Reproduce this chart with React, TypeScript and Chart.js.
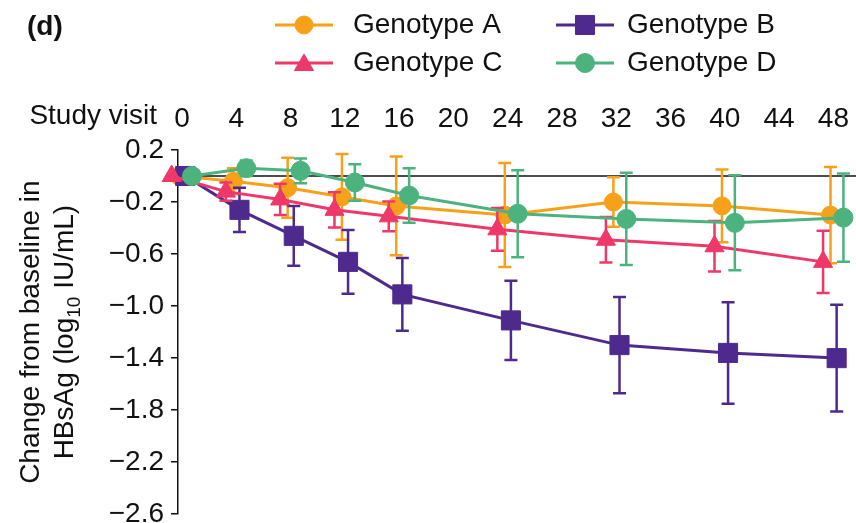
import { useEffect, useRef } from 'react';
import { Chart, registerables } from 'chart.js';

Chart.register(...registerables);

// ---- data ----
const weeks = [0, 4, 8, 12, 16, 24, 32, 40, 48];
const weekTicks = [0, 4, 8, 12, 16, 20, 24, 28, 32, 36, 40, 44, 48];
const yTicks = [0.2, -0.2, -0.6, -1.0, -1.4, -1.8, -2.2, -2.6];

const seriesNames = ['Genotype A', 'Genotype B', 'Genotype C', 'Genotype D'];

const genotypeA = [0, -0.04, -0.09, -0.16, -0.23, -0.30, -0.20, -0.23, -0.30];
const genotypeAErr = [0, 0.10, 0.23, 0.33, 0.38, 0.40, 0.19, 0.28, 0.37];

const genotypeB = [0, -0.26, -0.46, -0.66, -0.91, -1.11, -1.30, -1.36, -1.40];
const genotypeBErr = [0, 0.17, 0.23, 0.245, 0.28, 0.305, 0.37, 0.39, 0.41];

const genotypeC = [0, -0.12, -0.18, -0.26, -0.31, -0.41, -0.49, -0.54, -0.66];
const genotypeCErr = [0, 0.07, 0.12, 0.135, 0.115, 0.165, 0.175, 0.195, 0.24];

const genotypeD = [0, 0.06, 0.04, -0.05, -0.15, -0.29, -0.33, -0.36, -0.32];
const genotypeDErr = [0, 0.06, 0.095, 0.14, 0.21, 0.335, 0.355, 0.365, 0.34];

// ---- styling ----
const FONT = '"Liberation Sans", Arial, Helvetica, sans-serif';
const FS = 28;
const TEXT = '#111111';
const colors = ['#F7A11A', '#4E2A8E', '#EE3869', '#4DB37E'];
const pointStyles = ['circle', 'rect', 'triangle', 'circle'];
const pointRadii = [9, 13.5, 11, 9.5];
const dodge = [-0.21, 0.24, -0.76, 0.74];
const drawOrder = [4, 3, 2, 1];

const values = [genotypeA, genotypeB, genotypeC, genotypeD];
const errors = [genotypeAErr, genotypeBErr, genotypeCErr, genotypeDErr];

function fmtY(v: number) {
  const r = Math.round(v * 10) / 10;
  return (r < 0 ? '\u2212' : '') + Math.abs(r).toFixed(1);
}

function drawMarker(ctx: CanvasRenderingContext2D, style: string, x: number, y: number, r: number, color: string) {
  ctx.save();
  ctx.fillStyle = color;
  ctx.strokeStyle = color;
  ctx.lineWidth = 1;
  ctx.beginPath();
  if (style === 'circle') {
    ctx.arc(x, y, r, 0, Math.PI * 2);
  } else if (style === 'rect') {
    const s = r * Math.SQRT1_2;
    ctx.rect(x - s, y - s, 2 * s, 2 * s);
  } else {
    let rad = 0;
    ctx.moveTo(x + Math.sin(rad) * r, y - Math.cos(rad) * r);
    rad += (2 * Math.PI) / 3;
    ctx.lineTo(x + Math.sin(rad) * r, y - Math.cos(rad) * r);
    rad += (2 * Math.PI) / 3;
    ctx.lineTo(x + Math.sin(rad) * r, y - Math.cos(rad) * r);
    ctx.closePath();
  }
  ctx.fill();
  ctx.stroke();
  ctx.restore();
}

const errorBarPlugin = {
  id: 'errorBars',
  beforeDatasetsDraw(chart: any) {
    const { ctx, chartArea, scales } = chart;
    const y0 = scales.y.getPixelForValue(0);
    ctx.save();
    ctx.strokeStyle = TEXT;
    ctx.lineWidth = 1.5;
    ctx.beginPath();
    ctx.moveTo(chartArea.left, y0);
    ctx.lineTo(chartArea.right, y0);
    ctx.stroke();
    ctx.restore();
  },
  beforeDatasetDraw(chart: any, args: any) {
    const ds = chart.data.datasets[args.index];
    const errs: number[] = ds.errors;
    if (!errs) return;
    const { ctx, scales } = chart;
    ctx.save();
    ctx.strokeStyle = ds.borderColor;
    ctx.lineWidth = 2.5;
    ds.data.forEach((p: any, i: number) => {
      const e = errs[i];
      if (!e) return;
      const x = scales.x.getPixelForValue(p.x);
      const yt = scales.y.getPixelForValue(p.y + e);
      const yb = scales.y.getPixelForValue(p.y - e);
      ctx.beginPath();
      ctx.moveTo(x, yt);
      ctx.lineTo(x, yb);
      ctx.moveTo(x - 6.5, yt);
      ctx.lineTo(x + 6.5, yt);
      ctx.moveTo(x - 6.5, yb);
      ctx.lineTo(x + 6.5, yb);
      ctx.stroke();
    });
    ctx.restore();
  },
};

const annotationPlugin = {
  id: 'annotations',
  afterDraw(chart: any) {
    const { ctx, chartArea } = chart;
    ctx.save();
    ctx.fillStyle = TEXT;

    // panel label
    ctx.font = `bold ${FS}px ${FONT}`;
    ctx.textAlign = 'left';
    ctx.textBaseline = 'middle';
    ctx.fillText('(d)', 27, 27);

    // legend (2x2)
    const cols = [
      { lineL: 275, lineR: 333, mark: 304, text: 353 },
      { lineL: 556, lineR: 614, mark: 585, text: 627 },
    ];
    const rows = [25, 63];
    const layout = [
      [0, 0],
      [1, 0],
      [0, 1],
      [1, 1],
    ];
    ctx.font = `${FS}px ${FONT}`;
    seriesNames.forEach((name, i) => {
      const c = cols[layout[i][0]];
      const y = rows[layout[i][1]];
      ctx.strokeStyle = colors[i];
      ctx.lineWidth = 3;
      ctx.beginPath();
      ctx.moveTo(c.lineL, y);
      ctx.lineTo(c.lineR, y);
      ctx.stroke();
      drawMarker(ctx, pointStyles[i], c.mark, y + (pointStyles[i] === 'triangle' ? 2 : 0), pointRadii[i], colors[i]);
      ctx.fillStyle = TEXT;
      ctx.textAlign = 'left';
      ctx.textBaseline = 'middle';
      ctx.fillText(name, c.text, y);
    });

    // "Study visit" label for the top axis
    ctx.font = `${FS}px ${FONT}`;
    ctx.textAlign = 'right';
    ctx.textBaseline = 'middle';
    ctx.fillText('Study visit', 157, 116);

    // y-axis title (two lines, rotated, with subscript)
    const cy = (chartArea.top + chartArea.bottom) / 2;
    ctx.save();
    ctx.translate(39, cy);
    ctx.rotate(-Math.PI / 2);
    ctx.textAlign = 'center';
    ctx.textBaseline = 'alphabetic';
    ctx.font = `${FS}px ${FONT}`;
    ctx.fillText('Change from baseline in', 0, 0);
    ctx.restore();

    ctx.save();
    ctx.translate(73, cy);
    ctx.rotate(-Math.PI / 2);
    ctx.textAlign = 'left';
    ctx.textBaseline = 'alphabetic';
    const p1 = 'HBsAg (log';
    const p2 = '10';
    const p3 = ' IU/mL)';
    ctx.font = `${FS}px ${FONT}`;
    const w1 = ctx.measureText(p1).width;
    const w3 = ctx.measureText(p3).width;
    ctx.font = `${Math.round(FS * 0.68)}px ${FONT}`;
    const w2 = ctx.measureText(p2).width;
    const start = -(w1 + w2 + w3) / 2;
    ctx.font = `${FS}px ${FONT}`;
    ctx.fillText(p1, start, 0);
    ctx.font = `${Math.round(FS * 0.68)}px ${FONT}`;
    ctx.fillText(p2, start + w1, 7);
    ctx.font = `${FS}px ${FONT}`;
    ctx.fillText(p3, start + w1 + w2, 0);
    ctx.restore();

    ctx.restore();
  },
};

export default function App() {
  const canvasRef = useRef<HTMLCanvasElement | null>(null);

  useEffect(() => {
    const canvas = canvasRef.current;
    if (!canvas) return;

    const datasets = seriesNames.map((name, s) => ({
      label: name,
      data: weeks.map((w, i) => ({ x: w + dodge[s], y: values[s][i] })),
      errors: errors[s],
      borderColor: colors[s],
      backgroundColor: colors[s],
      borderWidth: 3,
      pointStyle: pointStyles[s],
      pointRadius: pointRadii[s],
      pointHoverRadius: pointRadii[s],
      pointBorderWidth: 1,
      pointBackgroundColor: colors[s],
      pointBorderColor: colors[s],
      tension: 0,
      clip: false,
      order: drawOrder[s],
    }));

    const chart = new Chart(canvas, {
      type: 'line',
      data: { datasets } as any,
      options: {
        animation: false,
        responsive: false,
        maintainAspectRatio: false,
        devicePixelRatio: 1,
        layout: { padding: { top: 0, left: 0, right: 0, bottom: 0 } },
        plugins: {
          legend: { display: false },
          tooltip: { enabled: false },
          title: { display: false },
        },
        scales: {
          x: {
            type: 'linear',
            position: 'top',
            min: -0.29,
            max: 51.84,
            afterBuildTicks: (scale: any) => {
              scale.ticks = weekTicks.map((v) => ({ value: v }));
            },
            afterFit: (scale: any) => {
              scale.height = 150;
            },
            grid: { display: false },
            border: { display: false },
            ticks: {
              color: TEXT,
              font: { size: FS, family: FONT },
              padding: 6,
              maxRotation: 0,
              autoSkip: false,
              callback: (v: any) => String(v),
            },
          },
          y: {
            type: 'linear',
            min: -2.6,
            max: 0.2,
            afterBuildTicks: (scale: any) => {
              scale.ticks = yTicks.map((v) => ({ value: v }));
            },
            afterFit: (scale: any) => {
              scale.width = 178;
            },
            grid: {
              display: true,
              drawOnChartArea: false,
              drawTicks: true,
              tickLength: 7,
              color: TEXT,
              lineWidth: 1.5,
            },
            border: { display: true, color: TEXT, width: 1.5 },
            ticks: {
              color: TEXT,
              font: { size: FS, family: FONT },
              padding: 7,
              autoSkip: false,
              callback: (v: any) => fmtY(Number(v)),
            },
          },
        },
      } as any,
      plugins: [errorBarPlugin, annotationPlugin],
    });

    return () => chart.destroy();
  }, []);

  return (
    <div
      style={{
        position: 'fixed',
        left: 0,
        top: 0,
        width: 856,
        height: 523,
        overflow: 'hidden',
        background: '#ffffff',
      }}
    >
      <canvas ref={canvasRef} width={900} height={538} style={{ display: 'block', width: 900, height: 538 }} />
    </div>
  );
}
